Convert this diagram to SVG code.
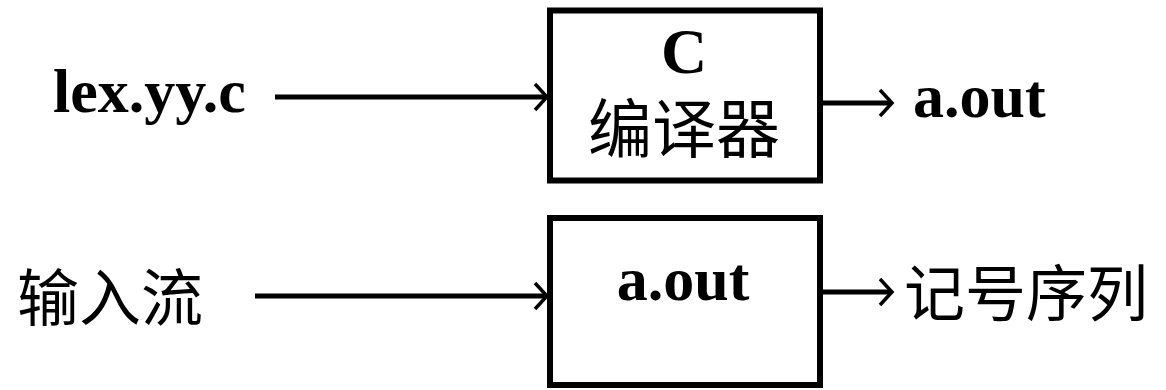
<svg xmlns="http://www.w3.org/2000/svg" width="1166" height="390" viewBox="0 0 1166 390">
<style>
.box{fill:#fff;stroke:#000;stroke-width:6}
.lat{font-family:"Liberation Serif","Times New Roman",serif;font-weight:bold;fill:#000}
.cjk{font-family:"Liberation Serif","Noto Sans CJK SC",serif;fill:#000}
.ln{stroke:#000;stroke-width:5;fill:none}
.hd{stroke:#000;stroke-width:3.5;fill:none;stroke-linejoin:miter}
</style>
<rect width="1166" height="390" fill="#fff"/>
<g id="in1"><text class="lat" x="53" y="112" font-size="62">lex.yy.c</text></g>
<g id="compiler">
<rect class="box" x="550" y="10.5" width="270" height="170"/>
<text class="lat" x="684" y="73" font-size="64" text-anchor="middle">C</text>
<text class="cjk" x="684" y="152" font-size="64" text-anchor="middle">编译器</text>
</g>
<g id="out1"><text class="lat" x="913" y="117" font-size="62">a.out</text></g>
<g id="in2"><text class="cjk" x="17" y="321" font-size="62">输入流</text></g>
<g id="aout">
<rect class="box" x="550" y="218" width="270" height="167"/>
<text class="lat" x="683" y="300" font-size="62" text-anchor="middle">a.out</text>
</g>
<g id="out2"><text class="cjk" x="904" y="316" font-size="61">记号序列</text></g>
<g id="connectors">
<line class="ln" x1="275" y1="97" x2="545" y2="97"/>
<path class="hd" d="M535,84 L547,97 L535,110"/>
<line class="ln" x1="823" y1="103" x2="890" y2="103"/>
<path class="hd" d="M880,90 L892,103 L880,116"/>
<line class="ln" x1="255" y1="296" x2="545" y2="296"/>
<path class="hd" d="M535,283 L547,296 L535,309"/>
<line class="ln" x1="823" y1="292" x2="890" y2="292"/>
<path class="hd" d="M880,279 L892,292 L880,305"/>
</g>
</svg>
